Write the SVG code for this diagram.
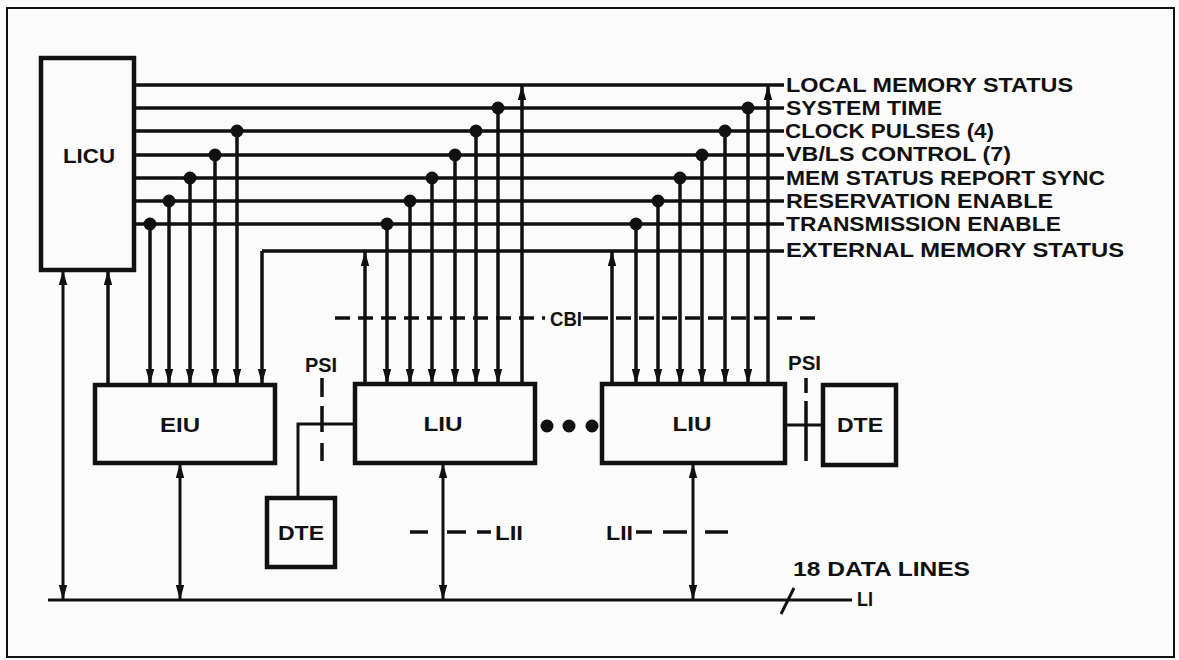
<svg xmlns="http://www.w3.org/2000/svg" width="1179" height="660" viewBox="0 0 1179 660">
<style>
.bg{fill:#fbfbfb}
.frame{fill:none;stroke:#111;stroke-width:2}
.box{fill:#fbfbfb;stroke:#111;stroke-width:4.5}
.ln{fill:none;stroke:#111;stroke-width:3.5}
.thin{fill:none;stroke:#111;stroke-width:3}
.dash{fill:none;stroke:#111;stroke-width:3.5;stroke-dasharray:15 8}
.dot{fill:#111}
.t{font-family:"Liberation Sans",Arial,sans-serif;font-weight:bold;font-size:21px;fill:#111}
.lbl{font-family:"Liberation Sans",Arial,sans-serif;font-weight:bold;font-size:21px;fill:#111;text-anchor:middle}
</style>
<defs>
<marker id="ah" markerUnits="userSpaceOnUse" markerWidth="15" markerHeight="10" refX="15" refY="5" orient="auto-start-reverse">
<path d="M0,0.8 L15,5 L0,9.2 z" fill="#111"/>
</marker>
</defs>
<rect class="bg" x="0" y="0" width="1179" height="660"/>
<rect class="frame" x="7" y="8" width="1167" height="649"/>

<g id="connectors">
<path class="ln" d="M135,85H784 M135,108H784 M135,131H784 M135,155H784 M135,178H784 M135,201H784 M135,224H784 M262,251H784"/>
<path class="ln" marker-end="url(#ah)" d="M150,224V384"/>
<path class="ln" marker-end="url(#ah)" d="M169,201V384"/>
<path class="ln" marker-end="url(#ah)" d="M190,178V384"/>
<path class="ln" marker-end="url(#ah)" d="M215,155V384"/>
<path class="ln" marker-end="url(#ah)" d="M237,131V384"/>
<path class="ln" marker-end="url(#ah)" d="M262,251V384"/>
<path class="ln" marker-end="url(#ah)" d="M387,224V384"/>
<path class="ln" marker-end="url(#ah)" d="M410,201V384"/>
<path class="ln" marker-end="url(#ah)" d="M432,178V384"/>
<path class="ln" marker-end="url(#ah)" d="M455,155V384"/>
<path class="ln" marker-end="url(#ah)" d="M476,131V384"/>
<path class="ln" marker-end="url(#ah)" d="M498,108V384"/>
<path class="ln" marker-end="url(#ah)" d="M365,384V251"/>
<path class="ln" marker-end="url(#ah)" d="M522,384V85"/>
<path class="ln" marker-end="url(#ah)" d="M636,224V384"/>
<path class="ln" marker-end="url(#ah)" d="M658,201V384"/>
<path class="ln" marker-end="url(#ah)" d="M680,178V384"/>
<path class="ln" marker-end="url(#ah)" d="M702,155V384"/>
<path class="ln" marker-end="url(#ah)" d="M725,131V384"/>
<path class="ln" marker-end="url(#ah)" d="M748,108V384"/>
<path class="ln" marker-end="url(#ah)" d="M612,384V251"/>
<path class="ln" marker-end="url(#ah)" d="M768,384V85"/>
<g class="dot">
<circle cx="150" cy="224" r="6.5"/><circle cx="169" cy="201" r="6.5"/><circle cx="190" cy="178" r="6.5"/><circle cx="215" cy="155" r="6.5"/><circle cx="237" cy="131" r="6.5"/>
<circle cx="387" cy="224" r="6.5"/><circle cx="410" cy="201" r="6.5"/><circle cx="432" cy="178" r="6.5"/><circle cx="455" cy="155" r="6.5"/><circle cx="476" cy="131" r="6.5"/><circle cx="498" cy="108" r="6.5"/>
<circle cx="636" cy="224" r="6.5"/><circle cx="658" cy="201" r="6.5"/><circle cx="680" cy="178" r="6.5"/><circle cx="702" cy="155" r="6.5"/><circle cx="725" cy="131" r="6.5"/><circle cx="748" cy="108" r="6.5"/>
</g>
<path class="thin" marker-start="url(#ah)" marker-end="url(#ah)" d="M63,270V600"/>
<path class="ln" marker-end="url(#ah)" d="M108,384V270"/>
<path class="thin" d="M48,600H852"/>
<path class="thin" d="M781,614L794,588"/>
<path class="thin" marker-start="url(#ah)" marker-end="url(#ah)" d="M180,463V600"/>
<path class="thin" marker-start="url(#ah)" marker-end="url(#ah)" d="M443,463V600"/>
<path class="thin" marker-start="url(#ah)" marker-end="url(#ah)" d="M693,463V600"/>
<path class="thin" d="M298,498V424H355"/>
<path class="thin" d="M785,425H823"/>
<path class="dash" d="M335,318H545"/>
<path class="ln" d="M583,318H608"/>
<path class="dash" style="stroke-dashoffset:-4" d="M612,318H816"/>
<path class="ln" d="M322,378V397 M322,406V432 M322,443V461"/>
<path class="ln" d="M806,378V393 M806,401V461"/>
<path class="ln" d="M410,532H428 M447,532H466 M477,532H491"/>
<path class="ln" d="M636,532H652 M663,532H687 M705,532H728"/>
<circle class="dot" cx="547" cy="426" r="6.5"/>
<circle class="dot" cx="569" cy="426" r="6.5"/>
<circle class="dot" cx="592" cy="426" r="6.5"/>
</g>

<g id="LICU"><rect class="box" x="41" y="58" width="93" height="212"/><text class="lbl" x="89" y="163" textLength="52" lengthAdjust="spacingAndGlyphs">LICU</text></g>
<g id="EIU"><rect class="box" x="95" y="385" width="180" height="78"/><text class="lbl" x="180" y="432" textLength="40" lengthAdjust="spacingAndGlyphs">EIU</text></g>
<g id="LIU1"><rect class="box" x="355" y="384" width="180" height="79"/><text class="lbl" x="443" y="431" textLength="39" lengthAdjust="spacingAndGlyphs">LIU</text></g>
<g id="LIU2"><rect class="box" x="602" y="384" width="183" height="79"/><text class="lbl" x="692" y="431" textLength="39" lengthAdjust="spacingAndGlyphs">LIU</text></g>
<g id="DTE1"><rect class="box" x="267" y="498" width="68" height="69"/><text class="lbl" x="301" y="540" textLength="46" lengthAdjust="spacingAndGlyphs">DTE</text></g>
<g id="DTE2"><rect class="box" x="823" y="385" width="73" height="80"/><text class="lbl" x="860" y="432" textLength="46" lengthAdjust="spacingAndGlyphs">DTE</text></g>

<g id="labels">
<text class="t" x="786" y="92" textLength="287" lengthAdjust="spacingAndGlyphs">LOCAL MEMORY STATUS</text>
<text class="t" x="786" y="115" textLength="156" lengthAdjust="spacingAndGlyphs">SYSTEM TIME</text>
<text class="t" x="785" y="138" textLength="209" lengthAdjust="spacingAndGlyphs">CLOCK PULSES (4)</text>
<text class="t" x="786" y="161" textLength="225" lengthAdjust="spacingAndGlyphs">VB/LS CONTROL (7)</text>
<text class="t" x="786" y="185" textLength="319" lengthAdjust="spacingAndGlyphs">MEM STATUS REPORT SYNC</text>
<text class="t" x="786" y="208" textLength="267" lengthAdjust="spacingAndGlyphs">RESERVATION ENABLE</text>
<text class="t" x="786" y="231" textLength="275" lengthAdjust="spacingAndGlyphs">TRANSMISSION ENABLE</text>
<text class="t" x="786" y="257" textLength="338" lengthAdjust="spacingAndGlyphs">EXTERNAL MEMORY STATUS</text>
<text class="t" x="550" y="326" textLength="32" lengthAdjust="spacingAndGlyphs">CBI</text>
<text class="t" x="305" y="372" textLength="32" lengthAdjust="spacingAndGlyphs">PSI</text>
<text class="t" x="788" y="370" textLength="33" lengthAdjust="spacingAndGlyphs">PSI</text>
<text class="t" x="495" y="540" textLength="28" lengthAdjust="spacingAndGlyphs">LII</text>
<text class="t" x="606" y="540" textLength="27" lengthAdjust="spacingAndGlyphs">LII</text>
<text class="t" x="793" y="576" textLength="177" lengthAdjust="spacingAndGlyphs">18 DATA LINES</text>
<text class="t" x="857" y="606" textLength="16" lengthAdjust="spacingAndGlyphs">LI</text>
</g>
</svg>
